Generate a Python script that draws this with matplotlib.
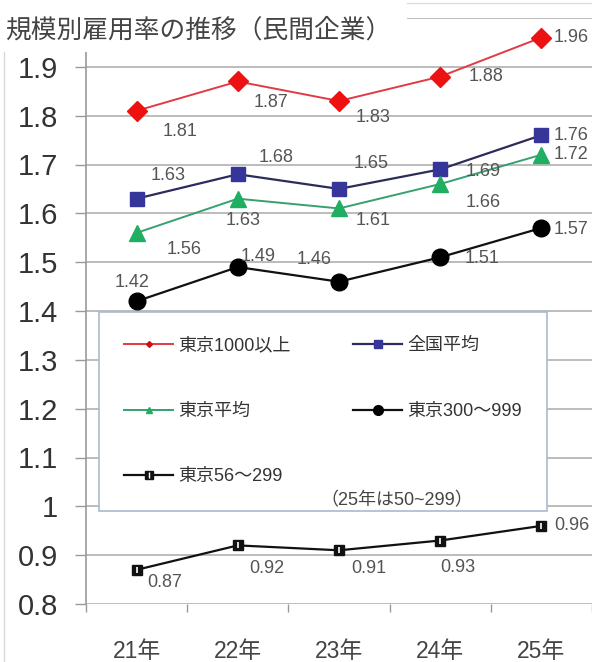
import matplotlib
matplotlib.use("Agg")
import matplotlib.pyplot as plt
from matplotlib.lines import Line2D
from matplotlib.patches import Rectangle
from matplotlib.legend_handler import HandlerTuple

plt.rcParams['font.family'] = ['Liberation Sans', 'Noto Sans CJK JP', 'DejaVu Sans']

years = ['21年', '22年', '23年', '24年', '25年']
tokyo_1000 = [1.81, 1.87, 1.83, 1.88, 1.96]
national_avg = [1.63, 1.68, 1.65, 1.69, 1.76]
tokyo_avg = [1.56, 1.63, 1.61, 1.66, 1.72]
tokyo_300 = [1.42, 1.49, 1.46, 1.51, 1.57]
tokyo_56 = [0.87, 0.92, 0.91, 0.93, 0.96]
yticks = [0.8, 0.9, 1.0, 1.1, 1.2, 1.3, 1.4, 1.5, 1.6, 1.7, 1.8, 1.9, 2.0]
ytick_labels = ['0.8', '0.9', '1', '1.1', '1.2', '1.3', '1.4', '1.5', '1.6', '1.7', '1.8', '1.9', '']

# label offsets in pixels for each series
off_1000 = [(43, -21), (33, -21), (34, -16), (46, 0), (30, 0)]
off_nat = [(32, 23), (38, 17), (32, 25), (43, -2), (30, 0)]
off_tavg = [(48, -17), (5, -22), (34, -12), (43, -18), (30, 0)]
off_300 = [(-5, 19), (20, 11), (-25, 22), (42, -1), (30, -2)]
off_56 = [(28, -13), (29, -23), (30, -18), (18, -27), (30, 0)]

W, H = 592, 662
fig = plt.figure(figsize=(W / 100, H / 100), dpi=100)
ax = fig.add_axes([86 / W, 58 / H, 506 / W, 586 / H])
x = list(range(len(years)))

ax.plot(x, tokyo_1000, color='#e23a44', lw=1.4, marker='D', ms=10,
        mfc='#ee1111', mec='#ee1111', zorder=4)
ax.plot(x, national_avg, color='#2c2c5c', lw=1.6, marker='s', ms=10,
        mfc='#35359a', mec='#35359a', zorder=4)
ax.plot(x, tokyo_avg, color='#36a070', lw=1.4, marker='^', ms=12,
        mfc='#1fae62', mec='#1fae62', zorder=4)
ax.plot(x, tokyo_300, color='#111111', lw=1.6, marker='o', ms=12,
        mfc='black', mec='black', zorder=4)
ax.plot(x, tokyo_56, color='#111111', lw=1.6, marker='s', ms=7,
        mfc='#111111', mec='#111111', zorder=4)
ax.plot(x, tokyo_56, ls='none', marker='|', ms=5, mew=1.2, color='white', zorder=5)

for vals, offs in [(tokyo_1000, off_1000), (national_avg, off_nat), (tokyo_avg, off_tavg),
                   (tokyo_300, off_300), (tokyo_56, off_56)]:
    for i, (v, o) in enumerate(zip(vals, offs)):
        ax.annotate(f'{v:.2f}', (i, v), xytext=o, textcoords='offset pixels',
                    ha='center', va='center', fontsize=13, color='#555555', zorder=6)

ax.set_xlim(-0.5, 4.5)
ax.set_ylim(0.8, 2.0)
ax.set_yticks(yticks)
ax.set_yticklabels(ytick_labels)
ax.set_xticks(x)
ax.set_xticklabels(years)
ax.set_xticks([i - 0.5 for i in range(len(years) + 1)], minor=True)
ax.tick_params(axis='y', length=8, width=1, color='#999999', pad=12,
               labelsize=21, labelcolor='#333333')
ax.tick_params(axis='x', which='major', length=0, pad=26, labelsize=16.5, labelcolor='#444444')
ax.tick_params(axis='x', which='minor', length=6, width=1, color='#999999')
ax.grid(axis='y', color='#b0b0b0', lw=1.2)
ax.set_axisbelow(True)
for s in ['top', 'right', 'bottom']:
    ax.spines[s].set_visible(False)
ax.spines['left'].set_color('#999999')
ax.spines['left'].set_linewidth(1.2)

# legend handles
h1 = Line2D([], [], color='#e23a44', lw=1.4, marker='D', ms=3, mfc='#cc1111', mec='#cc1111')
h2 = Line2D([], [], color='#2c2c5c', lw=1.6, marker='s', ms=6, mfc='#35359a', mec='#35359a')
h3 = Line2D([], [], color='#36a070', lw=1.4, marker='^', ms=4, mfc='#1fae62', mec='#1fae62')
h4 = Line2D([], [], color='#111111', lw=1.6, marker='o', ms=7, mfc='black', mec='black')
h5a = Line2D([], [], color='#111111', lw=1.6, marker='s', ms=6, mfc='#111111', mec='#111111')
h5b = Line2D([], [], ls='none', marker='|', ms=4, mew=1, color='white')
leg = ax.legend([h1, h3, (h5a, h5b), h2, h4],
                ['東京1000以上', '東京平均', '東京56～299', '全国平均', '東京300～999'],
                handler_map={tuple: HandlerTuple(ndivide=1)},
                ncol=2, loc='upper left', mode='expand',
                bbox_to_anchor=(13 / 506, 0.1587, 448 / 506, 0.3393),
                borderaxespad=0, borderpad=1.4, handlelength=2.7, handletextpad=0.28,
                labelspacing=2.68, fontsize=13, frameon=True, fancybox=False,
                framealpha=1, edgecolor='#a9bacd', labelcolor='#333333')
leg.get_frame().set_linewidth(1.2)
leg.set_zorder(7)
ax.text(0.615, 0.177, '（25年は50~299）', transform=ax.transAxes, ha='center', va='center',
        fontsize=13, color='#444444', zorder=8)

# title panel over the top of the plot area
fig.add_artist(Rectangle((0, 1 - 52 / H), 407 / W, 52 / H, transform=fig.transFigure,
                         facecolor='white', edgecolor='none', zorder=10))
fig.add_artist(Line2D([407 / W, 1], [1 - 3 / H, 1 - 3 / H], transform=fig.transFigure,
                      color='#dddddd', lw=1, zorder=10))
fig.add_artist(Line2D([4 / W, 4 / W], [0, 1 - 52 / H], transform=fig.transFigure,
                      color='#d8d8d8', lw=1, zorder=10))
fig.text(5 / W, 1 - 30 / H, '規模別雇用率の推移（民間企業）', ha='left', va='center',
         fontsize=18.5, color='#444444', zorder=11)

fig.savefig('out.png', dpi=100)
